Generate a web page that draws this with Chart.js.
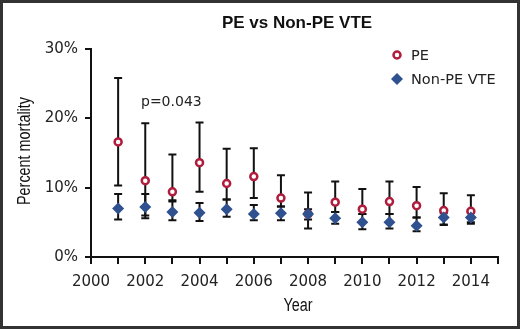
<!DOCTYPE html>
<html lang="en">
<head>
    <meta charset="UTF-8">
    <title>PE vs Non-PE VTE</title>
    <style>
        body { margin: 0; background: #fff; }
        canvas { display: block; }
    </style>
</head>
<body>
<canvas id="mortalityChart" width="520" height="329"></canvas>

<script src="https://cdn.jsdelivr.net/npm/chart.js"></script>
<script>
    // Datos (porcentaje de mortalidad)
    const years = [2001, 2002, 2003, 2004, 2005, 2006, 2007, 2008, 2009, 2010, 2011, 2012, 2013, 2014];

    const pe     = [16.6, 11.0, 9.4, 13.6, 10.6, 11.6, 8.5, 6.2, 7.9, 6.9, 8.0, 7.4, 6.7, 6.6];
    const peLow  = [10.3, 6.0, 8.0, 9.4, 8.3, 8.5, 7.3, 4.1, 6.5, 6.2, 6.2, 5.7, 4.7, 5.0];
    const peHigh = [25.8, 19.3, 14.8, 19.4, 15.6, 15.7, 11.8, 9.3, 10.9, 9.8, 10.9, 10.1, 9.2, 8.9];

    const vte     = [7.0, 7.2, 6.5, 6.4, 6.9, 6.2, 6.3, 6.2, 5.6, 5.0, 5.0, 4.5, 5.7, 5.7];
    const vteLow  = [5.4, 5.6, 5.3, 5.2, 5.8, 5.3, 5.3, 5.4, 4.8, 4.0, 4.1, 3.7, 4.6, 4.8];
    const vteHigh = [9.1, 9.1, 8.2, 7.8, 8.3, 7.5, 7.3, 6.9, 6.5, 6.2, 6.2, 5.7, 6.3, 6.4];

    const xTickLabels = ['2000', '2002', '2004', '2006', '2008', '2010', '2012', '2014'];
    const yTickLabels = ['0%', '10%', '20%', '30%'];

    const PE_RED = '#b01c3c';
    const VTE_BLUE = '#2f5190';
    const INK = '#111';

    // Barras de error (dibujadas con las escalas del grafico)
    const errorBars = {
        id: 'errorBars',
        beforeDatasetsDraw(chart) {
            const {ctx, scales: {x, y}} = chart;
            const sets = [[peLow, peHigh], [vteLow, vteHigh]];
            ctx.save();
            ctx.strokeStyle = INK;
            ctx.lineWidth = 2;
            sets.forEach(([lo, hi]) => {
                years.forEach((yr, i) => {
                    const px = x.getPixelForValue(yr);
                    const yLo = y.getPixelForValue(lo[i]);
                    const yHi = y.getPixelForValue(hi[i]);
                    ctx.beginPath();
                    ctx.moveTo(px, yLo);
                    ctx.lineTo(px, yHi);
                    ctx.moveTo(px - 4, yLo);
                    ctx.lineTo(px + 4, yLo);
                    ctx.moveTo(px - 4, yHi);
                    ctx.lineTo(px + 4, yHi);
                    ctx.stroke();
                });
            });
            ctx.restore();
        }
    };

    // Texto estrecho (no hay fuente condensada instalada)
    function narrowText(ctx, text, x, y, rot) {
        ctx.save();
        ctx.translate(x, y);
        ctx.rotate(rot);
        ctx.scale(0.8, 1);
        ctx.fillText(text, 0, 0);
        ctx.restore();
    }

    // Titulo, titulos de ejes, leyenda, anotacion y marco
    const extras = {
        id: 'extras',
        afterDraw(chart) {
            const ctx = chart.ctx;
            ctx.save();
            ctx.fillStyle = INK;
            ctx.textBaseline = 'middle';
            ctx.textAlign = 'center';
            ctx.font = 'bold 17px "Liberation Sans", Arial, sans-serif';
            ctx.fillText('PE vs Non-PE VTE', 297, 23);

            ctx.font = '18px "Liberation Sans", Arial, sans-serif';
            narrowText(ctx, 'Year', 298, 306, 0);
            narrowText(ctx, 'Percent mortality', 25, 151, -Math.PI / 2);

            ctx.textAlign = 'left';
            ctx.font = '14px "DejaVu Sans", sans-serif';
            ctx.fillStyle = '#222';
            ctx.fillText('p=0.043', 141, 102);

            // leyenda
            ctx.font = '14.5px "DejaVu Sans", sans-serif';
            ctx.fillText('PE', 411, 56);
            ctx.fillText('Non-PE VTE', 411, 80);
            ctx.beginPath();
            ctx.arc(397, 55, 3.5, 0, Math.PI * 2);
            ctx.fillStyle = '#fff';
            ctx.fill();
            ctx.lineWidth = 2.5;
            ctx.strokeStyle = PE_RED;
            ctx.stroke();
            ctx.beginPath();
            ctx.moveTo(397, 79 - 6);
            ctx.lineTo(397 + 6, 79);
            ctx.lineTo(397, 79 + 6);
            ctx.lineTo(397 - 6, 79);
            ctx.closePath();
            ctx.fillStyle = VTE_BLUE;
            ctx.fill();

            ctx.lineWidth = 3;
            ctx.strokeStyle = '#333';
            ctx.strokeRect(1.5, 1.5, 517, 326);
            ctx.restore();
        }
    };

    const ctx = document.getElementById('mortalityChart').getContext('2d');
    const chart = new Chart(ctx, {
        type: 'scatter',
        data: {
            datasets: [
                {
                    label: 'PE',
                    data: years.map((yr, i) => ({x: yr, y: pe[i]})),
                    pointStyle: 'circle',
                    pointRadius: 3.5,
                    pointBackgroundColor: '#fff',
                    pointBorderColor: PE_RED,
                    pointBorderWidth: 2.5,
                    order: 2
                },
                {
                    label: 'Non-PE VTE',
                    data: years.map((yr, i) => ({x: yr, y: vte[i]})),
                    pointStyle: 'rectRot',
                    pointRadius: 6,
                    pointBackgroundColor: VTE_BLUE,
                    pointBorderWidth: 0,
                    order: 1
                }
            ]
        },
        options: {
            responsive: false,
            animation: false,
            layout: { padding: { top: 49, right: 22, left: 0, bottom: 0 } },
            plugins: {
                legend: { display: false },
                tooltip: { enabled: false }
            },
            scales: {
                x: {
                    type: 'linear',
                    min: 2000,
                    max: 2015,
                    afterFit: s => { s.height = 72; },
                    afterBuildTicks: s => {
                        s.ticks = [];
                        for (let v = 2000; v <= 2015; v++) s.ticks.push({value: v});
                    },
                    ticks: {
                        autoSkip: false,
                        maxRotation: 0,
                        color: '#222',
                        padding: 9,
                        font: { family: '"DejaVu Sans", sans-serif', size: 15 },
                        callback: v => xTickLabels.includes(String(v)) ? String(v) : ''
                    },
                    grid: { drawOnChartArea: false, tickLength: 7, color: INK, lineWidth: 2 },
                    border: { color: INK, width: 2 }
                },
                y: {
                    min: 0,
                    max: 30,
                    afterFit: s => { s.width = 91; },
                    ticks: {
                        stepSize: 10,
                        color: '#222',
                        padding: 7,
                        font: { family: '"DejaVu Sans", sans-serif', size: 15 },
                        callback: v => yTickLabels[v / 10]
                    },
                    grid: { drawOnChartArea: false, tickLength: 6, color: INK, lineWidth: 2 },
                    border: { color: INK, width: 2 }
                }
            }
        },
        plugins: [errorBars, extras]
    });
</script>
</body>
</html>
